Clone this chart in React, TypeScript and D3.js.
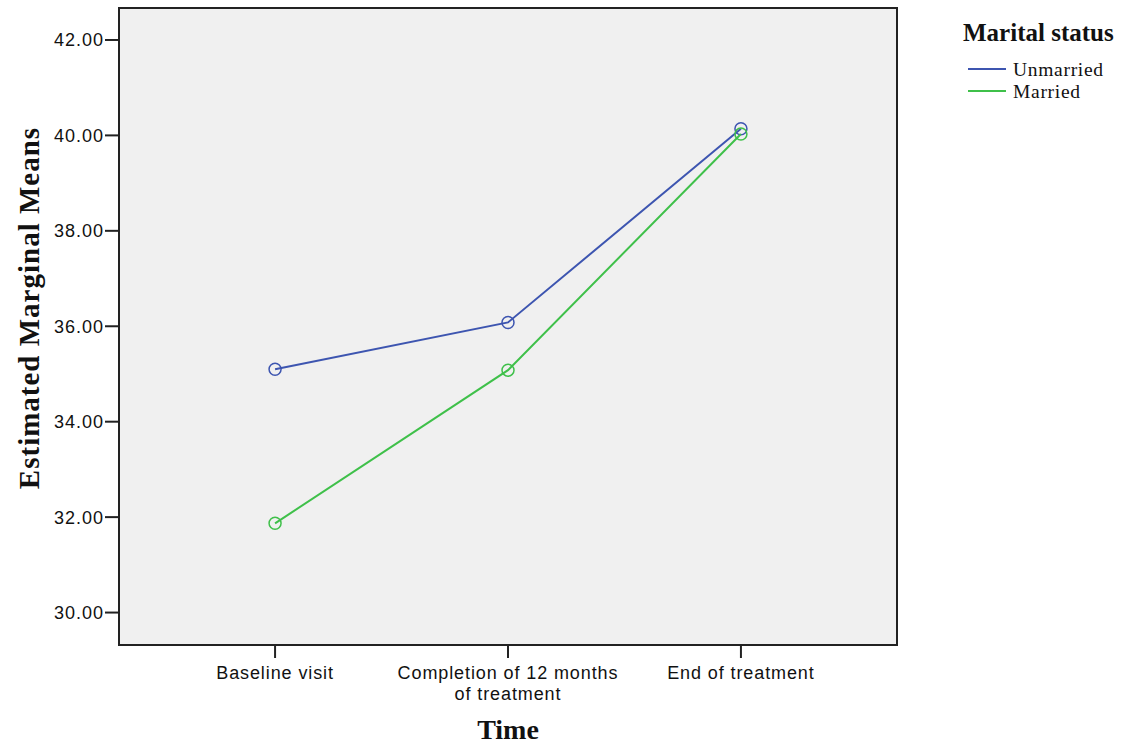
import React from "react";
import * as d3 from "d3";

const categories = ["Baseline visit", "Completion of 12 months\nof treatment", "End of treatment"];
const unmarried = [35.1, 36.08, 40.14];
const married = [31.87, 35.08, 40.03];
const yTicks = [30, 32, 34, 36, 38, 40, 42];
const seriesNames = ["Unmarried", "Married"];
const seriesColors = ["#3d55b0", "#3fc04a"];

const W = 1129, H = 745;
const left = 119, right = 897, top = 8, bottom = 645;
const sans = "Liberation Sans, Arial, sans-serif";
const serif = "Liberation Serif, serif";

export default function App() {
  const x = d3.scalePoint<string>().domain(categories).range([left, right]).padding(0.67);
  const y = d3.scaleLinear().domain([29.32, 42.67]).range([bottom, top]);
  const line = d3.line<number>().x((_, i) => x(categories[i])!).y((d) => y(d));
  const series = [unmarried, married];
  return (
    <svg width={W} height={H} style={{ position: "absolute", left: 0, top: 0 }}>
      <rect x={0} y={0} width={W} height={H} fill="#fff" />
      <rect x={left} y={top} width={right - left} height={bottom - top} fill="#f0f0f0" stroke="#222" strokeWidth={2} />
      {yTicks.map((t) => (
        <g key={t}>
          <line x1={left - 14} x2={left} y1={y(t)} y2={y(t)} stroke="#222" strokeWidth={2} />
          <text x={left - 15} y={y(t)} dy="0.36em" textAnchor="end" fontFamily={sans} fontSize={18} letterSpacing={1} fill="#111">{t.toFixed(2)}</text>
        </g>
      ))}
      {categories.map((c) => (
        <g key={c}>
          <line x1={x(c)} x2={x(c)} y1={bottom} y2={bottom + 13} stroke="#222" strokeWidth={2} />
          {c.split("\n").map((ln, i) => (
            <text key={i} x={x(c)} y={bottom + 34 + i * 21} textAnchor="middle" fontFamily={sans} fontSize={18} letterSpacing={0.9} fill="#111">{ln}</text>
          ))}
        </g>
      ))}
      {series.map((s, si) => (
        <g key={si}>
          <path d={line(s)!} fill="none" stroke={seriesColors[si]} strokeWidth={2} />
          {s.map((v, i) => (
            <circle key={i} cx={x(categories[i])} cy={y(v)} r={6} fill="none" stroke={seriesColors[si]} strokeWidth={1.5} />
          ))}
        </g>
      ))}
      <text x={x(categories[1])} y={739} textAnchor="middle" fontFamily={serif} fontWeight="bold" fontSize={28} fill="#111">Time</text>
      <text transform={`translate(39,${308}) rotate(-90)`} textAnchor="middle" fontFamily={serif} fontWeight="bold" fontSize={29} letterSpacing={1} fill="#111">Estimated Marginal Means</text>
      <text x={963} y={41} fontFamily={serif} fontWeight="bold" fontSize={25} fill="#111">Marital status</text>
      {seriesNames.map((n, i) => (
        <g key={n}>
          <line x1={968} x2={1006} y1={69 + i * 22} y2={69 + i * 22} stroke={seriesColors[i]} strokeWidth={2} />
          <text x={1013} y={69 + i * 22} dy="0.35em" fontFamily={serif} fontSize={19.5} letterSpacing={0.7} fill="#111">{n}</text>
        </g>
      ))}
    </svg>
  );
}
